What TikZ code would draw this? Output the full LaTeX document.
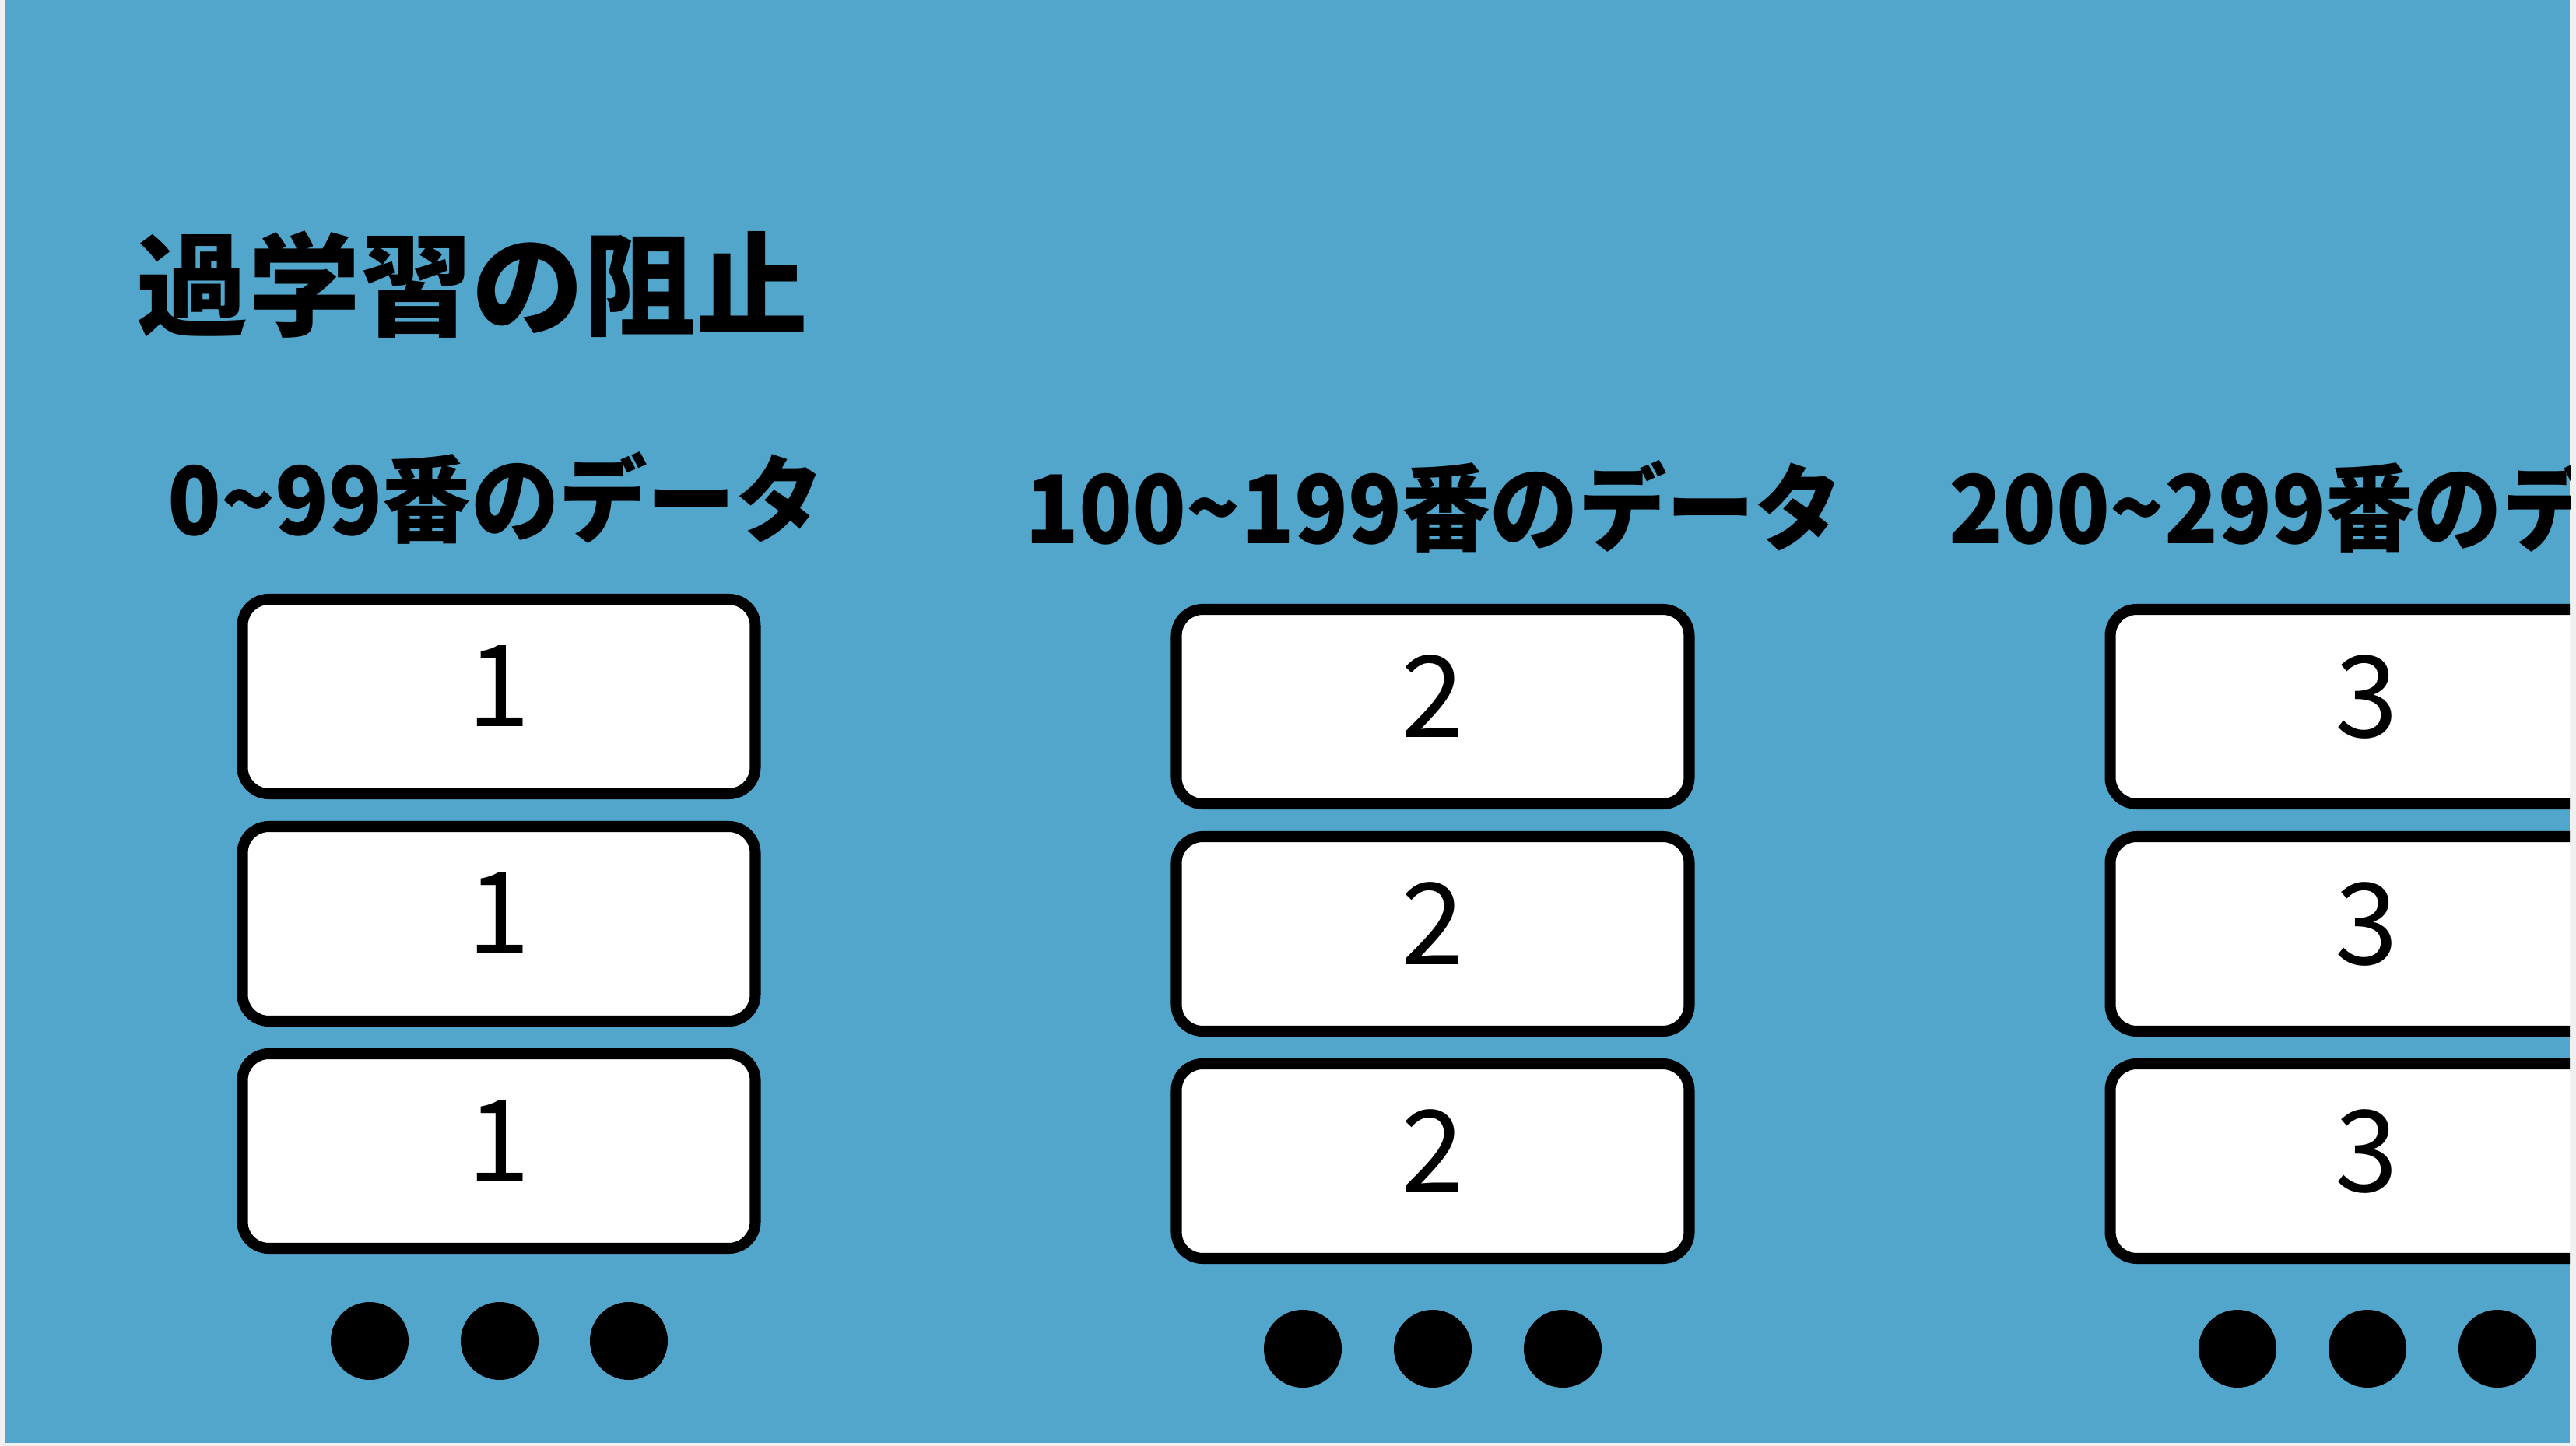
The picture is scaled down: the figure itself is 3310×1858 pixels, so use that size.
\documentclass[tikz,border=0pt]{standalone}
\usepackage{fontspec}
\setmainfont{Noto Sans CJK JP}
\newfontfamily\hdfont{Noto Sans CJK JP}[FakeStretch=0.93]
\definecolor{slide}{RGB}{82,165,203}
\definecolor{edge}{RGB}{240,240,240}
\tikzset{
  databox/.style={draw,line width=4pt,rounded corners=3.4mm,fill=white,
    minimum width=65.9mm,minimum height=25mm,inner sep=0pt,text depth=2.6mm,
    font=\fontsize{41.5}{50}\selectfont},
  dot/.style={circle,fill=black,minimum size=10mm,inner sep=0pt},
  header/.style={inner sep=0pt,font=\hdfont\bfseries\fontsize{34.7}{42}\selectfont}
}
\begin{document}
\begin{tikzpicture}[x=0.1mm,y=-0.1mm]
  \useasboundingbox (0,0) rectangle (3310,1858);
  \fill[edge] (0,0) rectangle (3310,1858);
  \fill[slide] (7,0) rectangle (3302,1854);

  \begin{scope}
    \clip (7,0) rectangle (3302,1854);

    \node[anchor=west,inner sep=0pt,font=\bfseries\fontsize{40.9}{50}\selectfont] (t) at (175,366) {過学習の阻止};

    \node[header] (h1) at (637,640) {0\char"7E 99番のデータ};
    \node[header] (h2) at (1843,651) {100\char"7E 199番のデータ};
    \node[header] (h3) at (3030,651) {200\char"7E 299番のデータ};

    \begin{scope}[every node/.style={databox}]
      \node (11) at (641,895)  {1};
      \node (12) at (641,1187) {1};
      \node (13) at (641,1479) {1};
      \node (21) at (1841,908)  {2};
      \node (22) at (1841,1200) {2};
      \node (23) at (1841,1492) {2};
      \node (31) at (3041,908)  {3};
      \node (32) at (3041,1200) {3};
      \node (33) at (3041,1492) {3};
    \end{scope}

    \begin{scope}[every node/.style={dot}]
      \node (d11) at (475,1723) {};
      \node (d12) at (642,1723) {};
      \node (d13) at (808,1723) {};
      \node (d21) at (1674,1733) {};
      \node (d22) at (1841,1733) {};
      \node (d23) at (2008,1733) {};
      \node (d31) at (2875,1733) {};
      \node (d32) at (3042,1733) {};
      \node (d33) at (3209,1733) {};
    \end{scope}
  \end{scope}

\end{tikzpicture}
\end{document}
